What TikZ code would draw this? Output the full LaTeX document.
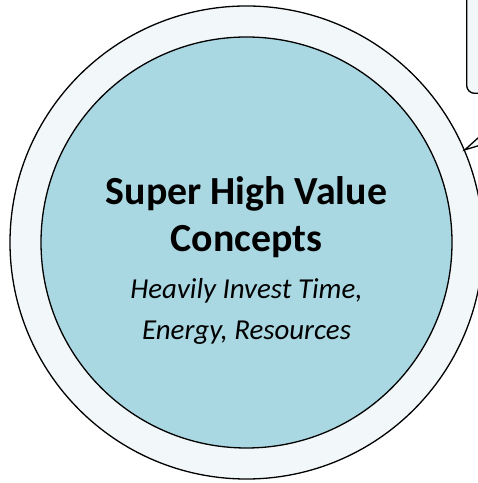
\documentclass[tikz,border=0pt]{standalone}
\usepackage{fontspec}
\setmainfont{Carlito}
\usetikzlibrary{positioning}

\definecolor{ringfill}{RGB}{242,248,250}
\definecolor{corefill}{RGB}{170,216,226}

\tikzset{
    disc/.style={circle, draw, line width=1.3bp, inner sep=0pt, minimum size=#1},
    notebox/.style={draw, line width=1.3bp, fill=ringfill, rounded corners=8bp,
        minimum width=300bp, minimum height=300bp, anchor=south west},
    headline/.style={font=\bfseries\fontsize{40}{48}\selectfont, align=center},
    subline/.style={font=\itshape\fontsize{29}{42}\selectfont, align=center}
}

\begin{document}
\begin{tikzpicture}[x=1bp, y=1bp]
    \useasboundingbox (0, 0) rectangle (478, 483);
    \clip (0, 0) rectangle (478, 483);

    % the two rings
    \node[disc=473bp, fill=ringfill] (outer) at (246.5, 240.5) {};
    \node[disc=411bp, fill=corefill] (inner) at (246.5, 240.5) {};

    % text in the middle (base = last line)
    \node[headline, anchor=base] (title) at (246.5, 231) {Super High Value\\Concepts};
    \node[subline, anchor=base] (sub) at ([yshift=-88bp]title.base) {Heavily Invest Time,\\Energy, Resources};

    % note box in the corner, pointing at the ring
    \node[notebox] (note) at (466, 389) {};
    \coordinate (ptA) at (527, 389);
    \coordinate (ptB) at (651, 389);
    \filldraw[line width=1.3bp, fill=ringfill] (ptA) -- (outer.23) -- (ptB);
\end{tikzpicture}
\end{document}
